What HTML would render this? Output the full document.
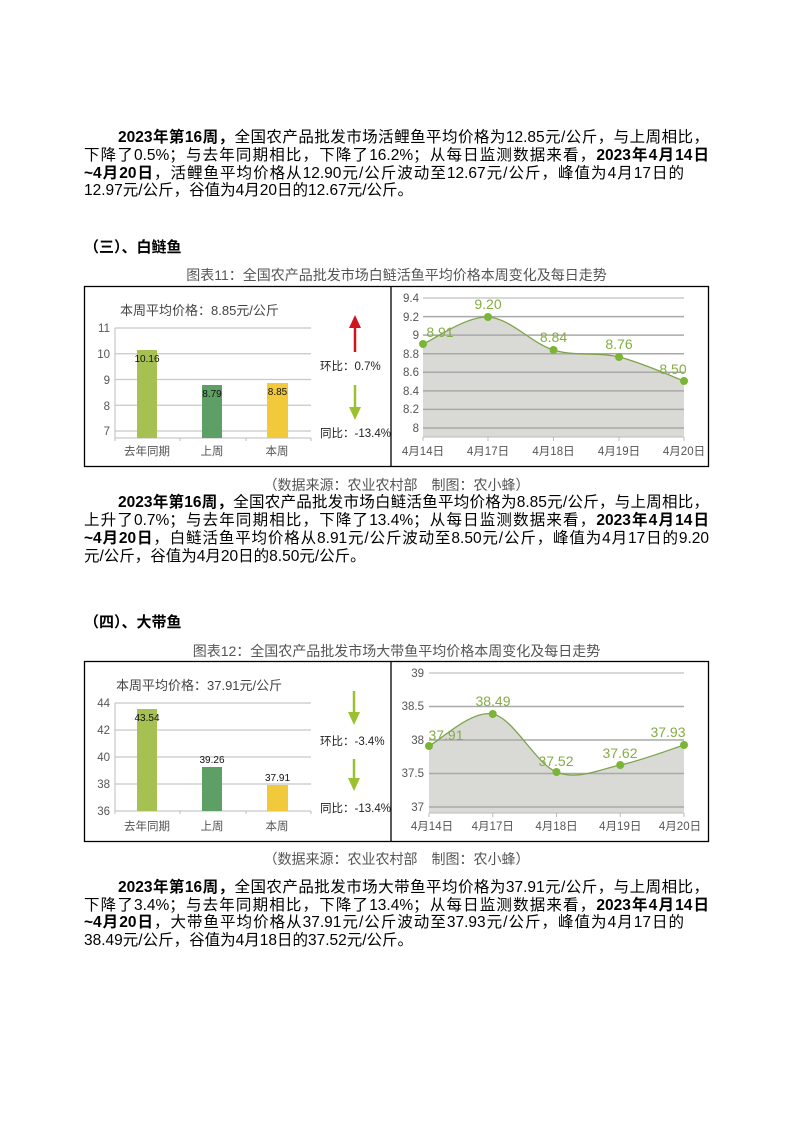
<!DOCTYPE html>
<html><head><meta charset="utf-8">
<style>
body{margin:0;background:#fff;}
#pg{position:relative;width:793px;height:1122px;overflow:hidden;font-family:"Liberation Sans","Noto Sans CJK SC",sans-serif;color:#000;}
.ln{position:absolute;left:84px;width:625px;font-size:15.5px;line-height:18px;white-space:nowrap;}
.j{text-align:justify;text-align-last:justify;}
.ln b{font-weight:bold;}
.h{position:absolute;left:84px;font-size:15px;font-weight:bold;}
.c{position:absolute;left:0;width:793px;text-align:center;font-size:14px;color:#555;}
svg{position:absolute;left:0;top:0;}
svg text{font-family:"Liberation Sans","Noto Sans CJK SC",sans-serif;}
</style></head><body><div id="pg">

<div class="ln j" style="top:129px;padding-left:34px;width:591px"><b>2023年第16周，</b>全国农产品批发市场活鲤鱼平均价格为12.85元/公斤，与上周相比，</div>
<div class="ln j" style="top:147px">下降了0.5%；与去年同期相比，下降了16.2%；从每日监测数据来看，<b>2023年4月14日</b></div>
<div class="ln j" style="top:165px;width:600px"><b>~4月20日</b>，活鲤鱼平均价格从12.90元/公斤波动至12.67元/公斤，峰值为4月17日的</div>
<div class="ln" style="top:182px">12.97元/公斤，谷值为4月20日的12.67元/公斤。</div>

<div class="h" style="top:236px">（三）、白鲢鱼</div>
<div class="c" style="top:265px">图表11：全国农产品批发市场白鲢活鱼平均价格本周变化及每日走势</div>
<div class="c" style="top:475px">（数据来源：农业农村部　制图：农小蜂）</div>

<div class="ln j" style="top:494px;padding-left:34px;width:591px"><b>2023年第16周，</b>全国农产品批发市场白鲢活鱼平均价格为8.85元/公斤，与上周相比，</div>
<div class="ln j" style="top:512px">上升了0.7%；与去年同期相比，下降了13.4%；从每日监测数据来看，<b>2023年4月14日</b></div>
<div class="ln j" style="top:530px"><b>~4月20日</b>，白鲢活鱼平均价格从8.91元/公斤波动至8.50元/公斤，峰值为4月17日的9.20</div>
<div class="ln" style="top:548px">元/公斤，谷值为4月20日的8.50元/公斤。</div>

<div class="h" style="top:611px">（四）、大带鱼</div>
<div class="c" style="top:641px">图表12：全国农产品批发市场大带鱼平均价格本周变化及每日走势</div>
<div class="c" style="top:849px">（数据来源：农业农村部　制图：农小蜂）</div>

<div class="ln j" style="top:879px;padding-left:34px;width:591px"><b>2023年第16周，</b>全国农产品批发市场大带鱼平均价格为37.91元/公斤，与上周相比，</div>
<div class="ln j" style="top:897px">下降了3.4%；与去年同期相比，下降了13.4%；从每日监测数据来看，<b>2023年4月14日</b></div>
<div class="ln j" style="top:914px;width:600px"><b>~4月20日</b>，大带鱼平均价格从37.91元/公斤波动至37.93元/公斤，峰值为4月17日的</div>
<div class="ln" style="top:932px">38.49元/公斤，谷值为4月18日的37.52元/公斤。</div>

<svg width="793" height="1122" viewBox="0 0 793 1122">
<g fill="none" stroke="#000" stroke-width="1.3">
<rect x="84.5" y="286.5" width="624" height="180"/>
<line x1="391" y1="286" x2="391" y2="467"/>
<rect x="84.5" y="661.5" width="624" height="180"/>
<line x1="391" y1="661" x2="391" y2="842"/>
</g>

<text x="120" y="315" font-size="13" fill="#444">本周平均价格：8.85元/公斤</text>
<g stroke="#c8c8c8" stroke-width="1.2">
<line x1="115" y1="328" x2="311" y2="328"/><line x1="115" y1="353.75" x2="311" y2="353.75"/>
<line x1="115" y1="379.5" x2="311" y2="379.5"/><line x1="115" y1="405.25" x2="311" y2="405.25"/>
<line x1="115" y1="431" x2="311" y2="431"/>
</g>
<g stroke="#bbb"><line x1="115" y1="438" x2="311" y2="438"/><line x1="115" y1="328" x2="115" y2="441"/>
<line x1="180" y1="438" x2="180" y2="441"/><line x1="246" y1="438" x2="246" y2="441"/><line x1="311" y1="438" x2="311" y2="441"/></g>
<g font-size="11.5" fill="#555" text-anchor="end">
<text x="110" y="332">11</text><text x="110" y="358">10</text><text x="110" y="384">9</text><text x="110" y="410">8</text><text x="110" y="435">7</text></g>
<rect x="137" y="350" width="20" height="88" fill="#a6c152"/>
<rect x="202" y="385" width="20" height="53" fill="#5d9f64"/>
<rect x="267" y="383" width="21" height="55" fill="#f1c93a"/>
<g font-size="10" fill="#111" text-anchor="middle"><text x="147" y="362">10.16</text><text x="212" y="397">8.79</text><text x="277.5" y="395">8.85</text></g>
<g font-size="11.5" fill="#555" text-anchor="middle"><text x="147" y="455">去年同期</text><text x="212" y="455">上周</text><text x="277" y="455">本周</text></g>
<line x1="355" y1="352" x2="355" y2="325" stroke="#d0141b" stroke-width="2.5"/><polygon points="349,328 355,315 361,328" fill="#d0141b"/>
<line x1="355" y1="385" x2="355" y2="410" stroke="#9bc130" stroke-width="2.5"/><polygon points="349,407 355,420 361,407" fill="#9bc130"/>
<text x="320" y="370" font-size="11.5" fill="#222">环比：0.7%</text>
<text x="320" y="437" font-size="11.5" fill="#222">同比：-13.4%</text>

<path id="a1" fill="#d9dad5"/>
<g stroke="#a9a9a9" stroke-width="1.5">
<line x1="423" y1="298" x2="684" y2="298" stroke="#ccc"/><line x1="423" y1="316.6" x2="684" y2="316.6"/>
<line x1="423" y1="335.1" x2="684" y2="335.1"/><line x1="423" y1="353.7" x2="684" y2="353.7"/>
<line x1="423" y1="372.3" x2="684" y2="372.3"/><line x1="423" y1="390.9" x2="684" y2="390.9"/>
<line x1="423" y1="409.4" x2="684" y2="409.4"/><line x1="423" y1="428" x2="684" y2="428"/>
</g>
<g stroke="#bbb"><line x1="423" y1="437" x2="684" y2="437"/>
<line x1="423" y1="437" x2="423" y2="441"/><line x1="488" y1="437" x2="488" y2="441"/><line x1="553.5" y1="437" x2="553.5" y2="441"/><line x1="619" y1="437" x2="619" y2="441"/><line x1="684" y1="437" x2="684" y2="441"/></g>
<path id="l1" fill="none" stroke="#7da34a" stroke-width="1.3"/>
<g font-size="11.5" fill="#555" text-anchor="end">
<text x="419" y="302">9.4</text><text x="419" y="321">9.2</text><text x="419" y="339">9</text><text x="419" y="358">8.8</text>
<text x="419" y="376">8.6</text><text x="419" y="395">8.4</text><text x="419" y="413">8.2</text><text x="419" y="432">8</text></g>
<g font-size="11.5" fill="#555" text-anchor="middle">
<text x="423" y="455">4月14日</text><text x="488" y="455">4月17日</text><text x="553.5" y="455">4月18日</text><text x="619" y="455">4月19日</text><text x="684" y="455">4月20日</text></g>
<g fill="#7ab536"><circle cx="423" cy="344" r="4"/><circle cx="488" cy="317" r="4"/><circle cx="553.5" cy="350" r="4"/><circle cx="619" cy="357" r="4"/><circle cx="684" cy="381" r="4"/></g>
<g font-size="14" fill="#85ad45" text-anchor="middle">
<text x="440" y="337">8.91</text><text x="488" y="309">9.20</text><text x="553.5" y="342">8.84</text><text x="619" y="349">8.76</text><text x="673" y="374">8.50</text></g>

<text x="116" y="690" font-size="13" fill="#444">本周平均价格：37.91元/公斤</text>
<g stroke="#c8c8c8" stroke-width="1.2">
<line x1="115" y1="703" x2="311" y2="703"/><line x1="115" y1="730" x2="311" y2="730"/>
<line x1="115" y1="757" x2="311" y2="757"/><line x1="115" y1="784" x2="311" y2="784"/></g>
<g stroke="#bbb"><line x1="115" y1="811" x2="311" y2="811"/><line x1="115" y1="703" x2="115" y2="814"/>
<line x1="180" y1="811" x2="180" y2="814"/><line x1="246" y1="811" x2="246" y2="814"/><line x1="311" y1="811" x2="311" y2="814"/></g>
<g font-size="11.5" fill="#555" text-anchor="end">
<text x="110" y="707">44</text><text x="110" y="734">42</text><text x="110" y="761">40</text><text x="110" y="788">38</text><text x="110" y="815">36</text></g>
<rect x="137" y="709" width="20" height="102" fill="#a6c152"/>
<rect x="202" y="767" width="20" height="44" fill="#5d9f64"/>
<rect x="267" y="785" width="21" height="26" fill="#f1c93a"/>
<g font-size="10" fill="#111" text-anchor="middle"><text x="147" y="721">43.54</text><text x="212" y="763">39.26</text><text x="277.5" y="781">37.91</text></g>
<g font-size="11.5" fill="#555" text-anchor="middle"><text x="147" y="830">去年同期</text><text x="212" y="830">上周</text><text x="277" y="830">本周</text></g>
<line x1="354" y1="691" x2="354" y2="714" stroke="#9bc130" stroke-width="2.5"/><polygon points="348,712 354,725 360,712" fill="#9bc130"/>
<line x1="354" y1="759" x2="354" y2="780" stroke="#9bc130" stroke-width="2.5"/><polygon points="348,778 354,791 360,778" fill="#9bc130"/>
<text x="320" y="745" font-size="11.5" fill="#222">环比：-3.4%</text>
<text x="320" y="812" font-size="11.5" fill="#222">同比：-13.4%</text>

<path id="a2" fill="#d9dad5"/>
<g stroke="#a9a9a9" stroke-width="1.5">
<line x1="429" y1="673" x2="684" y2="673" stroke="#ccc"/><line x1="429" y1="706.5" x2="684" y2="706.5"/>
<line x1="429" y1="740" x2="684" y2="740"/><line x1="429" y1="773.5" x2="684" y2="773.5"/><line x1="429" y1="807" x2="684" y2="807"/></g>
<g stroke="#bbb"><line x1="429" y1="813" x2="684" y2="813"/>
<line x1="429" y1="813" x2="429" y2="817"/><line x1="492.75" y1="813" x2="492.75" y2="817"/><line x1="556.5" y1="813" x2="556.5" y2="817"/><line x1="620.25" y1="813" x2="620.25" y2="817"/><line x1="684" y1="813" x2="684" y2="817"/></g>
<path id="l2" fill="none" stroke="#7da34a" stroke-width="1.3"/>
<g font-size="11.5" fill="#555" text-anchor="end">
<text x="424" y="677">39</text><text x="424" y="710">38.5</text><text x="424" y="744">38</text><text x="424" y="777">37.5</text><text x="424" y="811">37</text></g>
<g font-size="11.5" fill="#555" text-anchor="middle">
<text x="432" y="830">4月14日</text><text x="492.75" y="830">4月17日</text><text x="556.5" y="830">4月18日</text><text x="620.25" y="830">4月19日</text><text x="680" y="830">4月20日</text></g>
<g fill="#7ab536"><circle cx="429" cy="746" r="4"/><circle cx="492.75" cy="714" r="4"/><circle cx="556.5" cy="772" r="4"/><circle cx="620.25" cy="765" r="4"/><circle cx="684" cy="745" r="4"/></g>
<g font-size="14" fill="#85ad45" text-anchor="middle">
<text x="446" y="740">37.91</text><text x="493" y="706">38.49</text><text x="556" y="766">37.52</text><text x="620" y="758">37.62</text><text x="668" y="737">37.93</text></g>
</svg>
<script>
function curve(xs,ys){var p=[];for(var i=0;i<xs.length;i++)p.push([xs[i],ys[i]]);
var d="M"+p[0][0]+","+p[0][1];
for(var i=0;i<p.length-1;i++){var p0=p[i-1]||p[i],p1=p[i],p2=p[i+1],p3=p[i+2]||p2;
var c1x=p1[0]+(p2[0]-p0[0])/6,c1y=p1[1]+(p2[1]-p0[1])/6,c2x=p2[0]-(p3[0]-p1[0])/6,c2y=p2[1]-(p3[1]-p1[1])/6;
d+=" C"+c1x+","+c1y+" "+c2x+","+c2y+" "+p2[0]+","+p2[1];}return d;}
var d1=curve([423,488,553.5,619,684],[344,317,350,357,381]);
document.getElementById("l1").setAttribute("d",d1);
document.getElementById("a1").setAttribute("d",d1+" L684,437 L423,437 Z");
var d2=curve([429,492.75,556.5,620.25,684],[746,714,772,765,745]);
document.getElementById("l2").setAttribute("d",d2);
document.getElementById("a2").setAttribute("d",d2+" L684,813 L429,813 Z");
</script>
</div></body></html>
